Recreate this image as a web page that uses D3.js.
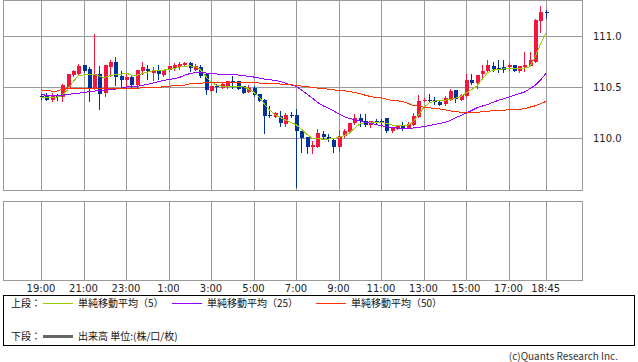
<!DOCTYPE html>
<html>
<head>
<meta charset="utf-8">
<script src="https://cdn.jsdelivr.net/npm/d3@7"></script>
<style>
  html, body { margin: 0; padding: 0; background: #fff; }
  svg { display: block; }
  .grid line, .frame { stroke: #999; stroke-width: 1; shape-rendering: crispEdges; fill: none; }
  .tick-label { font-family: "DejaVu Sans", sans-serif; font-size: 10px; fill: #222; }
  .legend-text { font-family: "Noto Sans CJK JP", sans-serif; font-size: 10px; fill: #111; }
</style>
</head>
<body>
<svg id="chart"></svg>
<script>
// 15-minute USD/JPY bars, 19:00 -> 18:45
const startLabel = '19:00';
const barMinutes = 15;

const opens = [
  110.413, 110.424, 110.374, 110.424, 110.401, 110.493, 110.615, 110.624, 110.713, 110.674,
  110.483, 110.631, 110.440, 110.697, 110.746, 110.605, 110.565, 110.598, 110.516, 110.654,
  110.680, 110.638, 110.657, 110.615, 110.664, 110.684, 110.697, 110.713, 110.736, 110.671,
  110.697, 110.624, 110.460, 110.508, 110.493, 110.499, 110.554, 110.555, 110.506, 110.450,
  110.493, 110.427, 110.374, 110.222, 110.210, 110.220, 110.137, 110.222, 110.230, 110.072,
  110.012, 109.907, 109.914, 110.039, 110.012, 109.980, 109.914, 110.022, 110.055, 110.144,
  110.197, 110.164, 110.131, 110.166, 110.170, 110.197, 110.065, 110.088, 110.121, 110.098,
  110.131, 110.210, 110.368, 110.376, 110.374, 110.351, 110.335, 110.374, 110.467, 110.374,
  110.407, 110.572, 110.539, 110.624, 110.657, 110.703, 110.689, 110.697, 110.697, 110.713,
  110.657, 110.697, 110.703, 110.746, 111.151, 111.232
];
const highs = [
  110.434, 110.440, 110.440, 110.434, 110.526, 110.631, 110.664, 110.730, 110.720, 110.697,
  111.019, 110.703, 110.713, 110.763, 110.796, 110.657, 110.638, 110.605, 110.671, 110.746,
  110.713, 110.697, 110.713, 110.670, 110.710, 110.736, 110.746, 110.746, 110.746, 110.723,
  110.713, 110.638, 110.506, 110.526, 110.535, 110.560, 110.605, 110.560, 110.510, 110.516,
  110.506, 110.434, 110.384, 110.309, 110.250, 110.269, 110.243, 110.259, 110.286, 110.072,
  110.012, 109.973, 110.088, 110.072, 110.039, 109.989, 110.078, 110.088, 110.150, 110.236,
  110.236, 110.236, 110.170, 110.187, 110.187, 110.197, 110.111, 110.125, 110.154, 110.154,
  110.243, 110.417, 110.394, 110.427, 110.401, 110.374, 110.407, 110.483, 110.473, 110.434,
  110.624, 110.631, 110.615, 110.713, 110.763, 110.746, 110.763, 110.763, 110.736, 110.713,
  110.710, 110.845, 110.845, 111.164, 111.296, 111.256
];
const lows = [
  110.384, 110.368, 110.361, 110.368, 110.361, 110.490, 110.610, 110.620, 110.650, 110.361,
  110.480, 110.286, 110.411, 110.605, 110.516, 110.493, 110.506, 110.493, 110.493, 110.624,
  110.575, 110.565, 110.575, 110.610, 110.660, 110.664, 110.680, 110.703, 110.657, 110.664,
  110.598, 110.427, 110.460, 110.450, 110.490, 110.495, 110.493, 110.480, 110.440, 110.450,
  110.407, 110.361, 110.045, 110.210, 110.205, 110.121, 110.121, 110.203, 109.522, 109.858,
  109.848, 109.848, 109.907, 109.999, 109.966, 109.858, 109.868, 110.006, 110.050, 110.137,
  110.121, 110.121, 110.111, 110.137, 110.121, 110.055, 110.055, 110.085, 110.078, 110.098,
  110.131, 110.203, 110.361, 110.351, 110.335, 110.328, 110.328, 110.374, 110.351, 110.374,
  110.401, 110.526, 110.493, 110.598, 110.648, 110.657, 110.648, 110.648, 110.664, 110.657,
  110.651, 110.657, 110.703, 110.746, 111.042, 111.174
];
const closes = [
  110.405, 110.368, 110.424, 110.401, 110.516, 110.624, 110.657, 110.703, 110.654, 110.483,
  110.631, 110.427, 110.713, 110.746, 110.598, 110.565, 110.595, 110.516, 110.664, 110.697,
  110.657, 110.671, 110.624, 110.664, 110.703, 110.717, 110.730, 110.736, 110.687, 110.710,
  110.605, 110.467, 110.506, 110.503, 110.532, 110.555, 110.550, 110.483, 110.444, 110.493,
  110.417, 110.361, 110.220, 110.218, 110.243, 110.144, 110.230, 110.218, 110.065, 109.996,
  109.914, 109.933, 110.045, 110.006, 109.989, 109.914, 110.022, 110.065, 110.144, 110.197,
  110.170, 110.131, 110.170, 110.162, 110.144, 110.065, 110.098, 110.121, 110.088, 110.137,
  110.220, 110.361, 110.374, 110.372, 110.351, 110.328, 110.394, 110.460, 110.384, 110.417,
  110.572, 110.539, 110.615, 110.657, 110.713, 110.680, 110.685, 110.671, 110.713, 110.657,
  110.703, 110.713, 110.769, 111.158, 111.240, 111.228
];

// moving averages as drawn (they include bars before 19:00)
const ma5 = [
  110.401, 110.401, 110.401, 110.401, 110.417, 110.473, 110.549, 110.611, 110.618, 110.624,
  110.624, 110.605, 110.592, 110.611, 110.624, 110.624, 110.638, 110.615, 110.615, 110.631,
  110.644, 110.657, 110.657, 110.664, 110.674, 110.680, 110.697, 110.703, 110.707, 110.703,
  110.671, 110.605, 110.549, 110.519, 110.509, 110.506, 110.506, 110.506, 110.506, 110.483,
  110.450, 110.407, 110.335, 110.276, 110.230, 110.203, 110.177, 110.154, 110.131, 110.088,
  110.039, 109.999, 109.993, 109.989, 109.989, 109.993, 110.006, 110.022, 110.045, 110.095,
  110.137, 110.151, 110.154, 110.154, 110.151, 110.144, 110.128, 110.121, 110.118, 110.124,
  110.154, 110.220, 110.295, 110.342, 110.361, 110.368, 110.371, 110.378, 110.391, 110.407,
  110.440, 110.473, 110.506, 110.572, 110.638, 110.664, 110.671, 110.677, 110.680, 110.684,
  110.684, 110.684, 110.697, 110.796, 110.917, 111.026
];
const ma25 = [
  110.424, 110.420, 110.417, 110.417, 110.420, 110.427, 110.434, 110.437, 110.447, 110.453,
  110.460, 110.467, 110.470, 110.473, 110.480, 110.490, 110.499, 110.503, 110.506, 110.516,
  110.526, 110.539, 110.552, 110.565, 110.572, 110.582, 110.592, 110.615, 110.631, 110.641,
  110.641, 110.638, 110.631, 110.628, 110.624, 110.624, 110.624, 110.618, 110.611, 110.605,
  110.598, 110.588, 110.578, 110.572, 110.565, 110.555, 110.539, 110.522, 110.506, 110.473,
  110.434, 110.394, 110.351, 110.318, 110.295, 110.269, 110.236, 110.210, 110.193, 110.180,
  110.170, 110.154, 110.144, 110.134, 110.121, 110.111, 110.101, 110.098, 110.095, 110.095,
  110.098, 110.105, 110.111, 110.121, 110.131, 110.141, 110.154, 110.170, 110.197, 110.220,
  110.243, 110.269, 110.295, 110.312, 110.328, 110.348, 110.368, 110.384, 110.401, 110.417,
  110.434, 110.450, 110.483, 110.516, 110.565, 110.631
];
const ma50 = [
  110.473, 110.463, 110.460, 110.460, 110.476, 110.483, 110.483, 110.483, 110.486, 110.490,
  110.490, 110.490, 110.490, 110.490, 110.490, 110.490, 110.483, 110.483, 110.486, 110.493,
  110.493, 110.493, 110.493, 110.503, 110.506, 110.513, 110.516, 110.519, 110.532, 110.532,
  110.536, 110.542, 110.542, 110.542, 110.542, 110.542, 110.542, 110.542, 110.542, 110.542,
  110.542, 110.539, 110.539, 110.532, 110.532, 110.529, 110.526, 110.522, 110.516, 110.509,
  110.506, 110.496, 110.490, 110.483, 110.480, 110.473, 110.467, 110.463, 110.457, 110.447,
  110.434, 110.420, 110.407, 110.397, 110.394, 110.381, 110.368, 110.365, 110.358, 110.342,
  110.318, 110.312, 110.302, 110.295, 110.292, 110.286, 110.276, 110.266, 110.259, 110.253,
  110.249, 110.253, 110.253, 110.256, 110.263, 110.266, 110.266, 110.269, 110.279, 110.282,
  110.282, 110.286, 110.302, 110.315, 110.335, 110.358
];

const priceTicks = [110.0, 110.5, 111.0];
const timeLabels = ['19:00', '21:00', '23:00', '1:00', '3:00', '5:00', '7:00', '9:00',
  '11:00', '13:00', '15:00', '17:00', '18:45'];

const legendItems = [
  { label: '単純移動平均（5）', color: '#99cc00' },
  { label: '単純移動平均（25）', color: '#9900ff' },
  { label: '単純移動平均（50）', color: '#ff3300' }
];

const upColor = '#f5143c';
const downColor = '#003399';

const width = 638, height = 362;
const plot = { left: 3, right: 582, top: 0, bottom: 190 };
const vol = { top: 201, bottom: 280 };

// turn "H:MM" into a Date, times before the start belong to the next day
const startHour = +startLabel.split(':')[0];
function labelToDate(s) {
  const [h, m] = s.split(':').map(Number);
  return new Date(2000, 0, h < startHour ? 2 : 1, h, m);
}
const t0 = labelToDate(startLabel);
const bars = closes.map((c, i) => ({
  t: d3.timeMinute.offset(t0, i * barMinutes),
  o: opens[i], h: highs[i], l: lows[i], c: c,
  ma5: ma5[i], ma25: ma25[i], ma50: ma50[i]
}));

const x = d3.scaleTime()
  .domain([t0, bars[bars.length - 1].t])
  .range([41, 545.7]);
const y = d3.scaleLinear()
  .domain([109.49, 111.353])
  .range([plot.bottom, plot.top]);

const svg = d3.select('#chart').attr('width', width).attr('height', height);
const px = v => Math.round(v) + 0.5;

// --- upper panel grid ---
const grid = svg.append('g').attr('class', 'grid');
const tickDates = timeLabels.map(labelToDate);

grid.selectAll('.vu').data(tickDates).enter().append('line')
  .attr('x1', d => px(x(d))).attr('x2', d => px(x(d)))
  .attr('y1', plot.top).attr('y2', plot.bottom);
grid.selectAll('.hu').data(priceTicks).enter().append('line')
  .attr('x1', plot.left).attr('x2', plot.right)
  .attr('y1', d => px(y(d))).attr('y2', d => px(y(d)));

svg.append('rect').attr('class', 'frame')
  .attr('x', plot.left + 0.5).attr('y', plot.top + 0.5)
  .attr('width', plot.right - plot.left).attr('height', plot.bottom - plot.top);

// --- lower panel (volume, empty for FX) ---
grid.selectAll('.vl').data(tickDates).enter().append('line')
  .attr('x1', d => px(x(d))).attr('x2', d => px(x(d)))
  .attr('y1', vol.top).attr('y2', vol.bottom);
svg.append('rect').attr('class', 'frame')
  .attr('x', plot.left + 0.5).attr('y', vol.top + 0.5)
  .attr('width', plot.right - plot.left).attr('height', vol.bottom - vol.top);

// --- candles ---
const candles = svg.append('g').attr('class', 'candles');
const candle = candles.selectAll('g').data(bars).enter().append('g');
const colorOf = d => d.c >= d.o ? upColor : downColor;

candle.append('line')
  .attr('x1', d => px(x(d.t))).attr('x2', d => px(x(d.t)))
  .attr('y1', d => Math.round(y(d.h))).attr('y2', d => Math.round(y(d.l)) + 1)
  .attr('stroke', colorOf).attr('shape-rendering', 'crispEdges');
candle.append('rect')
  .attr('x', d => Math.round(x(d.t)) - 1.5)
  .attr('width', 4)
  .attr('y', d => Math.round(y(Math.max(d.o, d.c))))
  .attr('height', d => Math.max(1, Math.round(y(Math.min(d.o, d.c))) - Math.round(y(Math.max(d.o, d.c)))))
  .attr('fill', colorOf).attr('shape-rendering', 'crispEdges');

// --- moving averages ---
const maKeys = ['ma5', 'ma25', 'ma50'];
maKeys.forEach((k, i) => {
  svg.append('path')
    .datum(bars)
    .attr('fill', 'none')
    .attr('stroke', legendItems[i].color)
    .attr('stroke-width', 1)
    .attr('shape-rendering', 'crispEdges')
    .attr('d', d3.line().x(d => x(d.t)).y(d => y(d[k])));
});

// --- axis labels ---
svg.append('g').selectAll('text').data(priceTicks).enter().append('text')
  .attr('class', 'tick-label')
  .attr('x', 593).attr('y', d => y(d) + 4)
  .text(d => d3.format('.1f')(d));

svg.append('g').selectAll('text').data(tickDates).enter().append('text')
  .attr('class', 'tick-label')
  .attr('text-anchor', 'middle')
  .attr('x', d => x(d)).attr('y', 292)
  .text((d, i) => timeLabels[i]);

// --- legend box ---
const lg = svg.append('g');
lg.append('rect')
  .attr('x', 3.5).attr('y', 295.5).attr('width', 631).attr('height', 50)
  .attr('fill', 'none').attr('stroke', '#000').attr('shape-rendering', 'crispEdges');

lg.append('text').attr('class', 'legend-text').attr('x', 11).attr('y', 307).text('上段：');
const legendX = [43, 172, 316];
legendItems.forEach((it, i) => {
  lg.append('line')
    .attr('x1', legendX[i]).attr('x2', legendX[i] + 30)
    .attr('y1', 303.5).attr('y2', 303.5)
    .attr('stroke', it.color).attr('shape-rendering', 'crispEdges');
  lg.append('text').attr('class', 'legend-text')
    .attr('x', legendX[i] + 35).attr('y', 307).text(it.label);
});

lg.append('text').attr('class', 'legend-text').attr('x', 11).attr('y', 340).text('下段：');
lg.append('line')
  .attr('x1', 43).attr('x2', 73).attr('y1', 336.5).attr('y2', 336.5)
  .attr('stroke', '#666').attr('stroke-width', 3);
lg.append('text').attr('class', 'legend-text').attr('x', 78).attr('y', 340)
  .text('出来高 単位:(株/口/枚)');

svg.append('text')
  .attr('class', 'legend-text')
  .attr('text-anchor', 'end')
  .attr('x', 618).attr('y', 360)
  .style('fill', '#333')
  .text('(c)Quants Research Inc.');
</script>
</body>
</html>
